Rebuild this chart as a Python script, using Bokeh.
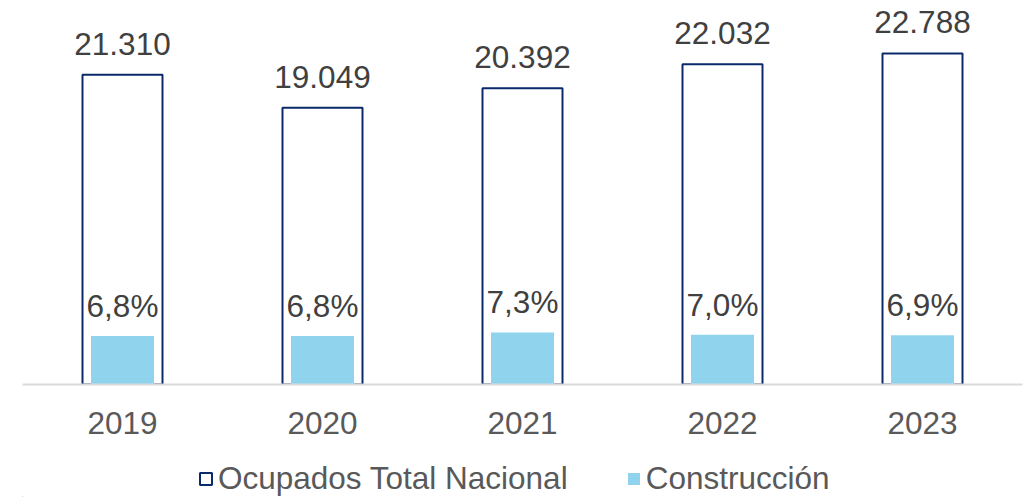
from bokeh.plotting import figure
from bokeh.layouts import column
from bokeh.models import FactorRange, Range1d, Legend, LegendItem, ColumnDataSource
from bokeh.core.properties import value
from bokeh.embed import file_html
from bokeh.resources import INLINE

years = ["2019", "2020", "2021", "2022", "2023"]
ocupados = [21310, 19049, 20392, 22032, 22788]          # miles de personas
construccion_pct = [6.8, 6.8, 7.3, 7.0, 6.9]            # % del total
series_names = ["Ocupados Total Nacional", "Construcción"]

ocup_labels = [f"{v:,}".replace(",", ".") for v in ocupados]
pct_labels = [f"{v:.1f}%".replace(".", ",") for v in construccion_pct]

FONT = "Liberation Sans"
FS = "31.5px"
NAVY = "#0A2A6B"
LIGHT = "#8FD4EC"

src = ColumnDataSource(dict(year=years, ocup=ocupados, pct=construccion_pct,
                            ol=ocup_labels, pl=pct_labels))

p = figure(x_range=FactorRange(*years, range_padding=0), y_range=Range1d(0, 26428),
           frame_width=1000, frame_height=384, output_backend="svg", toolbar_location=None,
           min_border_left=22, min_border_right=8, min_border_top=0, min_border_bottom=63)
p.extra_y_ranges = {"pct": Range1d(0, 53.9)}

p.vbar(x="year", top="ocup", width=0.4, source=src, fill_color="white",
       line_color=NAVY, line_width=2)
p.vbar(x="year", top="pct", width=0.315, source=src, fill_color=LIGHT,
       line_color=None, y_range_name="pct")

p.text(x="year", y="ocup", text="ol", source=src, y_offset=-31, text_align="center",
       text_baseline="alphabetic", text_font=value(FONT), text_font_size=FS,
       text_color="#404040")
p.text(x="year", y="pct", text="pl", source=src, y_offset=-30, text_align="center",
       text_baseline="alphabetic", text_font=value(FONT), text_font_size=FS,
       text_color="#404040", y_range_name="pct")

p.yaxis.visible = False
p.xgrid.visible = False
p.ygrid.visible = False
p.outline_line_color = None

xa = p.xaxis[0]
xa.axis_line_color = "#D9D9D9"
xa.axis_line_width = 2
xa.major_tick_line_color = None
xa.minor_tick_line_color = None
xa.major_tick_out = 0
xa.major_tick_in = 0
xa.major_label_standoff = 27
xa.major_label_text_font = FONT
xa.major_label_text_font_size = FS
xa.major_label_text_color = "#595959"

# Legend strip below the chart (swatches come from degenerate, off-range proxy glyphs)
lg = figure(width=1030, height=50, output_backend="svg", toolbar_location=None,
            x_range=Range1d(0, 1), y_range=Range1d(0, 1),
            min_border_left=0, min_border_right=0, min_border_top=0, min_border_bottom=0)
lg.axis.visible = False
lg.grid.visible = False
lg.outline_line_color = None
g1 = lg.vbar(x=[-10], top=[-10], bottom=[-10], width=0, fill_color="white",
             line_color=NAVY, line_width=2)
g2 = lg.vbar(x=[-10], top=[-10], bottom=[-10], width=0, fill_color=LIGHT, line_color=None)

legend = Legend(items=[LegendItem(label=series_names[0], renderers=[g1]),
                       LegendItem(label=series_names[1], renderers=[g2])],
                orientation="horizontal", location=(176, 0),
                glyph_width=15, glyph_height=15, label_standoff=5, spacing=58,
                padding=0, margin=0, border_line_color=None, background_fill_alpha=0,
                label_text_font=FONT, label_text_font_size=FS,
                label_text_color="#595959")
lg.add_layout(legend, "center")

layout = column(p, lg, spacing=0)
open("out.html", "w").write(file_html(layout, INLINE))
